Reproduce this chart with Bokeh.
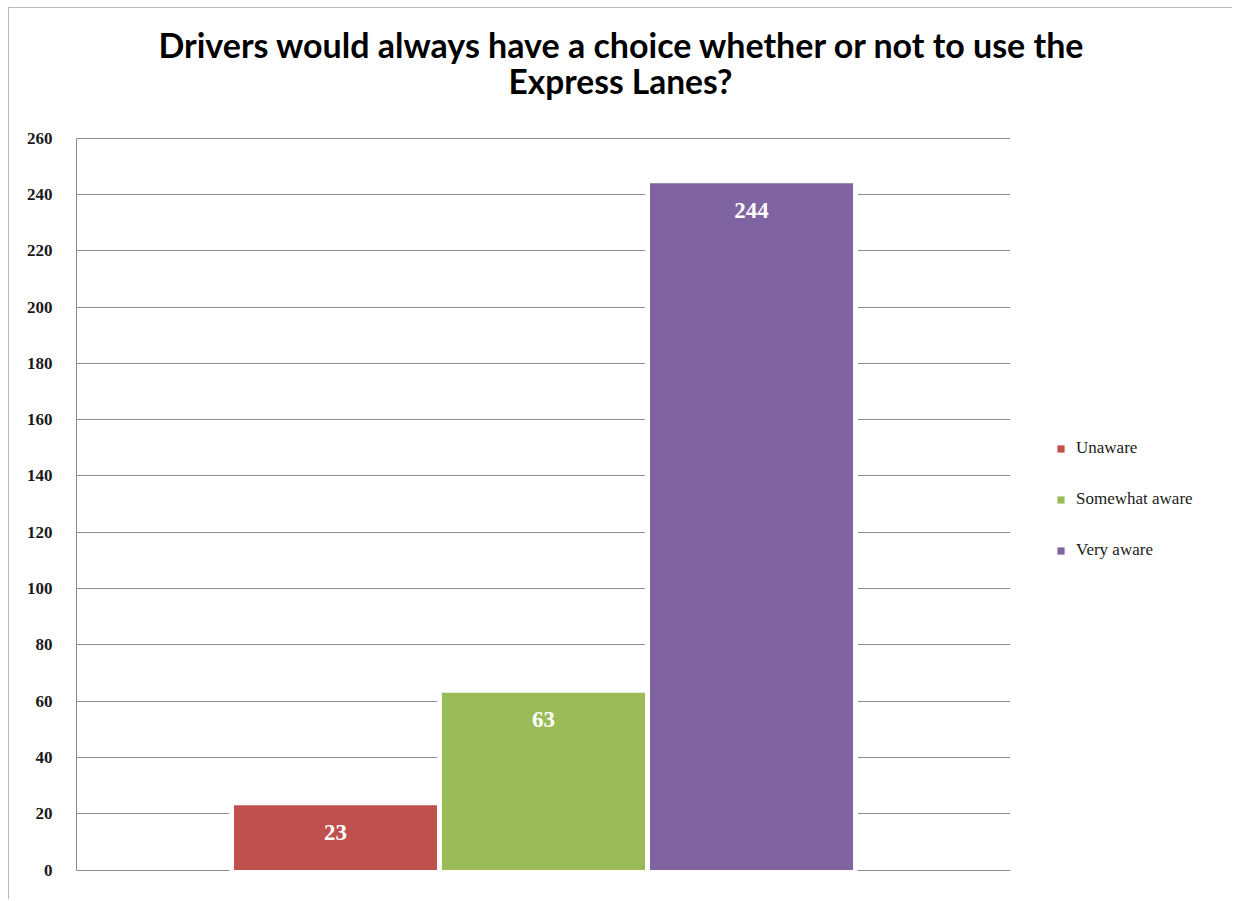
from bokeh.plotting import figure
from bokeh.models import Range1d, FixedTicker, Legend, LegendItem, Label, Title
from bokeh.embed import file_html
from bokeh.resources import INLINE
from bokeh.core.properties import value

title_lines = ["Drivers would always have a choice whether or not to use the", "Express Lanes?"]
categories = ["Unaware", "Somewhat aware", "Very aware"]
counts = [23, 63, 244]
colors = ["#C0504D", "#9BBB59", "#8064A2"]
y_ticks = list(range(0, 261, 20))

PX_PER_UNIT = 732 / 260
FRAME_H = 807
p = figure(frame_width=934, frame_height=FRAME_H, output_backend="svg", toolbar_location=None,
           x_range=Range1d(-2.245, 2.245), y_range=Range1d(-0.5, -0.5 + FRAME_H / PX_PER_UNIT),
           x_axis_location=None,
           min_border_left=68, min_border_right=222, min_border_top=57, min_border_bottom=28)
p.outline_line_color = None
p.background_fill_color = "white"
p.border_fill_color = "white"
p.styles = {"margin-left": "8px", "margin-top": "7px", "width": "1224px",
            "outline": "2px solid #a6a6a6", "outline-offset": "-2px"}

p.xgrid.visible = False
p.ygrid.grid_line_color = "#8c8c8c"
p.ygrid.grid_line_width = 1
p.ygrid.ticker = FixedTicker(ticks=y_ticks)

ax = p.yaxis[0]
ax.ticker = FixedTicker(ticks=y_ticks)
ax.bounds = (y_ticks[0], y_ticks[-1])
ax.axis_line_color = "#8c8c8c"
ax.major_tick_in = 0
ax.major_tick_out = 0
ax.minor_tick_line_color = None
ax.major_label_standoff = 24
ax.major_label_text_font = "Liberation Serif"
ax.major_label_text_font_style = "bold"
ax.major_label_text_font_size = "17px"
ax.major_label_text_color = "#1a1a1a"
ax.major_label_text_baseline = "alphabetic"

items = []
for i, (cat, val, col) in enumerate(zip(categories, counts, colors)):
    xs = [i - 1]
    p.vbar(x=xs, top=[val], width=1.0, fill_color="white", line_color="white", line_width=5)
    r = p.vbar(x=xs, top=[val], width=0.976, fill_color=col, line_color=None)
    items.append(LegendItem(label=cat, renderers=[r]))
    p.text(x=xs, y=[val], text=[str(val)], text_color="white",
           text_font=value("Liberation Serif"), text_font_style="bold", text_font_size="23px",
           text_align="center", text_baseline="middle", y_offset=27)

legend = Legend(items=items, location=(46, 311), margin=0, padding=7,
                border_line_color=None, background_fill_alpha=0,
                glyph_width=9, glyph_height=9, label_standoff=11,
                label_text_font="Liberation Serif", label_text_font_size="17px",
                label_text_color="#1a1a1a", label_height=20, spacing=31)
p.add_layout(legend, "right")

# first title line in the panel above the frame
p.add_layout(Title(text=title_lines[0], align="left", offset=82, standoff=0,
                   text_font="Lato", text_font_style="bold", text_font_size="34px",
                   text_color="black"), "above")
# second title line inside the top of the frame, centred under the first
p.add_layout(Label(x=544, y=791, x_units="screen", y_units="screen", text=title_lines[1],
                   text_align="center", text_baseline="alphabetic",
                   text_font="Lato", text_font_style="bold", text_font_size="33.5px",
                   text_color="black"))

open("out.html", "w").write(file_html(p, INLINE))
